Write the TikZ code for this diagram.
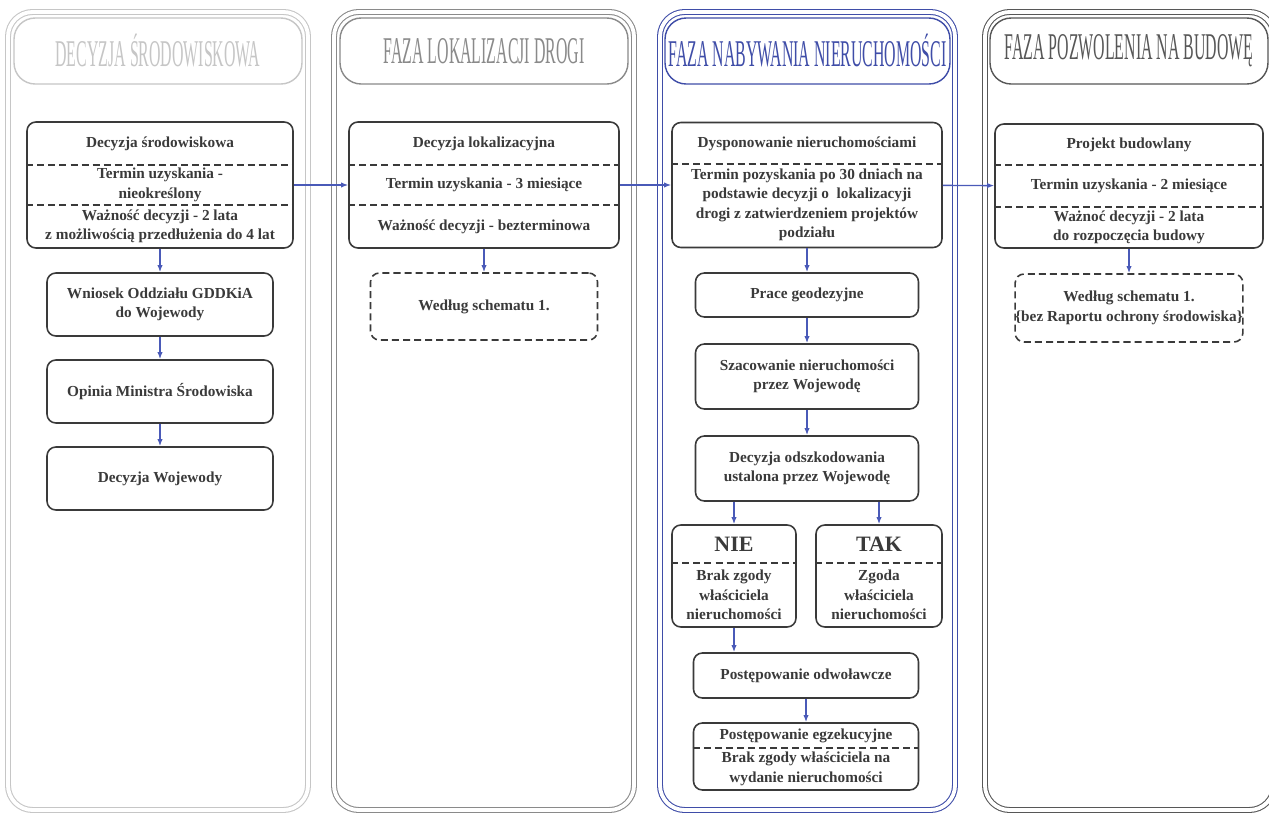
\documentclass[tikz,border=0pt]{standalone}
\usepackage{fontspec}
\setmainfont{Liberation Serif}
\usepackage{graphicx}
\usetikzlibrary{arrows.meta,positioning,calc}
\definecolor{pgray}{HTML}{C6C6C6}
\definecolor{pmid}{HTML}{8A8A8A}
\definecolor{pblue}{HTML}{3F4DA8}
\definecolor{pdark}{HTML}{575757}
\definecolor{cardline}{HTML}{3A3A3A}
\definecolor{ink}{HTML}{3A3A3A}
\definecolor{flow}{HTML}{4A5AB8}
\newcommand{\phasettl}[1]{\scalebox{0.42}[1]{#1}}
\tikzset{
  colframe/.style={double,double distance=2.2pt,line width=0.6pt,rounded corners=14pt},
  titlebox/.style={rounded corners=12pt,line width=0.8pt,inner sep=0pt,font=\fontsize{21.5}{21.5}\selectfont},
  card/.style={draw=cardline,rounded corners=5pt,line width=0.9pt,inner sep=0pt,align=center,text=ink,font=\bfseries\fontsize{8.7}{11.1}\selectfont},
  dcard/.style={card,dash pattern=on 4pt off 2.3pt},
  txt/.style={align=center,text=ink,inner sep=0pt,font=\bfseries\fontsize{8.7}{11.1}\selectfont},
  cut/.style={draw=cardline,line width=0.8pt,dash pattern=on 4pt off 2.3pt},
  arr/.style={-{Latex[length=4pt,width=3pt]},line width=0.8pt,draw=flow},
}

\begin{document}
\begin{tikzpicture}[x=0.02cm,y=-0.02cm]
  \clip (0,0) rectangle (1269,815);
  \fill[white] (0,0) rectangle (1269,815);
  % phase frames
  \draw[colframe,draw=pgray] (8,12) rectangle (308,810);
  \draw[colframe,draw=pmid] (334,12) rectangle (634,810);
  \draw[colframe,draw=pblue] (660,12) rectangle (955,810);
  \draw[colframe,draw=pdark] (985,12) rectangle (1274,810);
  \node[titlebox,draw=pgray,text=pgray,minimum width=5.76cm,minimum height=1.32cm] (t1) at (158,51) {\phasettl{DECYZJA ŚRODOWISKOWA}};
  \node[titlebox,draw=pmid,text=pmid,minimum width=5.76cm,minimum height=1.32cm] (t2) at (484,51) {\phasettl{FAZA LOKALIZACJI DROGI}};
  \node[titlebox,draw=pblue,text=pblue,minimum width=5.70cm,minimum height=1.32cm] (t3) at (807.5,51) {\phasettl{FAZA NABYWANIA NIERUCHOMOŚCI}};
  \node[titlebox,draw=pdark,text=pdark,minimum width=5.56cm,minimum height=1.32cm] (t4) at (1129,51) {\phasettl{FAZA POZWOLENIA NA BUDOWĘ}};

  % decyzja srodowiskowa
  \node[card,minimum width=5.32cm,minimum height=2.52cm] (ds) at (160,185) {};
  \node[txt] (ds1) at (160,143.5) {Decyzja środowiskowa};
  \node[txt] (ds2) at (160,185) {Termin uzyskania -\\nieokreślony};
  \node[txt] (ds3) at (160,226.5) {Ważność decyzji - 2 lata\\z możliwością przedłużenia do 4 lat};
  \draw[cut] (ds.west |- 0,165) -- (ds.east |- 0,165);
  \draw[cut] (ds.west |- 0,205) -- (ds.east |- 0,205);
  \node[card,minimum width=4.52cm,minimum height=1.26cm] (wn) at (160,304.5) {Wniosek Oddziału GDDKiA\\do Wojewody};
  \node[card,minimum width=4.52cm,minimum height=1.26cm] (op) at (160,391.5) {Opinia Ministra Środowiska};
  \node[card,minimum width=4.52cm,minimum height=1.26cm] (dw) at (160,478.5) {Decyzja Wojewody};

  % lokalizacja drogi
  \node[card,minimum width=5.40cm,minimum height=2.52cm] (dl) at (484,185) {};
  \node[txt] (dl1) at (484,143.5) {Decyzja lokalizacyjna};
  \node[txt] (dl2) at (484,185) {Termin uzyskania - 3 miesiące};
  \node[txt] (dl3) at (484,226.5) {Ważność decyzji - bezterminowa};
  \draw[cut] (dl.west |- 0,165) -- (dl.east |- 0,165);
  \draw[cut] (dl.west |- 0,205) -- (dl.east |- 0,205);
  \node[dcard,minimum width=4.54cm,minimum height=1.34cm] (ws) at (484,306.5) {Według schematu 1.};

  % nabywanie nieruchomosci
  \node[card,minimum width=5.40cm,minimum height=2.50cm] (dp) at (807,185) {};
  \node[txt] (dp1) at (807,143.5) {Dysponowanie nieruchomościami};
  \node[txt] (dp2) at (807,205) {Termin pozyskania po 30 dniach na\\podstawie decyzji o \ lokalizacyji\\drogi z zatwierdzeniem projektów\\podziału};
  \draw[cut] (dp.west |- 0,164) -- (dp.east |- 0,164);
  \node[card,minimum width=4.46cm,minimum height=0.88cm] (pg) at (807,295) {Prace geodezyjne};
  \node[card,minimum width=4.46cm,minimum height=1.30cm] (sz) at (807,376.5) {Szacowanie nieruchomości\\przez Wojewodę};
  \node[card,minimum width=4.46cm,minimum height=1.30cm] (dod) at (807,468.5) {Decyzja odszkodowania\\ustalona przez Wojewodę};
  \node[card,minimum width=2.48cm,minimum height=2.04cm] (nie) at (734,576) {};
  \node[txt,font=\bfseries\fontsize{12.5}{14}\selectfont] (nie1) at (734,544) {NIE};
  \node[txt] (nie2) at (734,595) {Brak zgody\\właściciela\\nieruchomości};
  \draw[cut] (nie.west |- 0,563) -- (nie.east |- 0,563);
  \node[card,minimum width=2.52cm,minimum height=2.04cm] (tak) at (879,576) {};
  \node[txt,font=\bfseries\fontsize{12.5}{14}\selectfont] (tak1) at (879,544) {TAK};
  \node[txt] (tak2) at (879,595) {Zgoda\\właściciela\\nieruchomości};
  \draw[cut] (tak.west |- 0,563) -- (tak.east |- 0,563);
  \node[card,minimum width=4.50cm,minimum height=0.90cm] (odw) at (806,675.5) {Postępowanie odwoławcze};
  \node[card,minimum width=4.50cm,minimum height=1.34cm] (egz) at (806,756.5) {};
  \node[txt] (egz1) at (806,736) {Postępowanie egzekucyjne};
  \node[txt] (egz2) at (806,769) {Brak zgody właściciela na\\wydanie nieruchomości};
  \draw[cut] (egz.west |- 0,748) -- (egz.east |- 0,748);

  % pozwolenie na budowe
  \node[card,minimum width=5.36cm,minimum height=2.48cm] (pb) at (1129,186) {};
  \node[txt] (pb1) at (1129,144.5) {Projekt budowlany};
  \node[txt] (pb2) at (1129,186) {Termin uzyskania - 2 miesiące};
  \node[txt] (pb3) at (1129,227.5) {Ważnoć decyzji - 2 lata\\do rozpoczęcia budowy};
  \draw[cut] (pb.west |- 0,165) -- (pb.east |- 0,165);
  \draw[cut] (pb.west |- 0,207) -- (pb.east |- 0,207);
  \node[dcard,minimum width=4.54cm,minimum height=1.36cm] (wb) at (1129,308) {Według schematu 1.\\\{bez Raportu ochrony środowiska\}};

  % flow
  \foreach \a/\b in {ds/wn,wn/op,op/dw,dl/ws,dp/pg,pg/sz,sz/dod,odw/egz,pb/wb,ds/dl,dl/dp,dp/pb} {
    \draw[arr] (\a) -- (\b);
  }
  \draw[arr] (dod.south -| nie.north) -- (nie.north);
  \draw[arr] (dod.south -| tak.north) -- (tak.north);
  \draw[arr] (nie.south) -- (nie.south |- odw.north);
\end{tikzpicture}
\end{document}
